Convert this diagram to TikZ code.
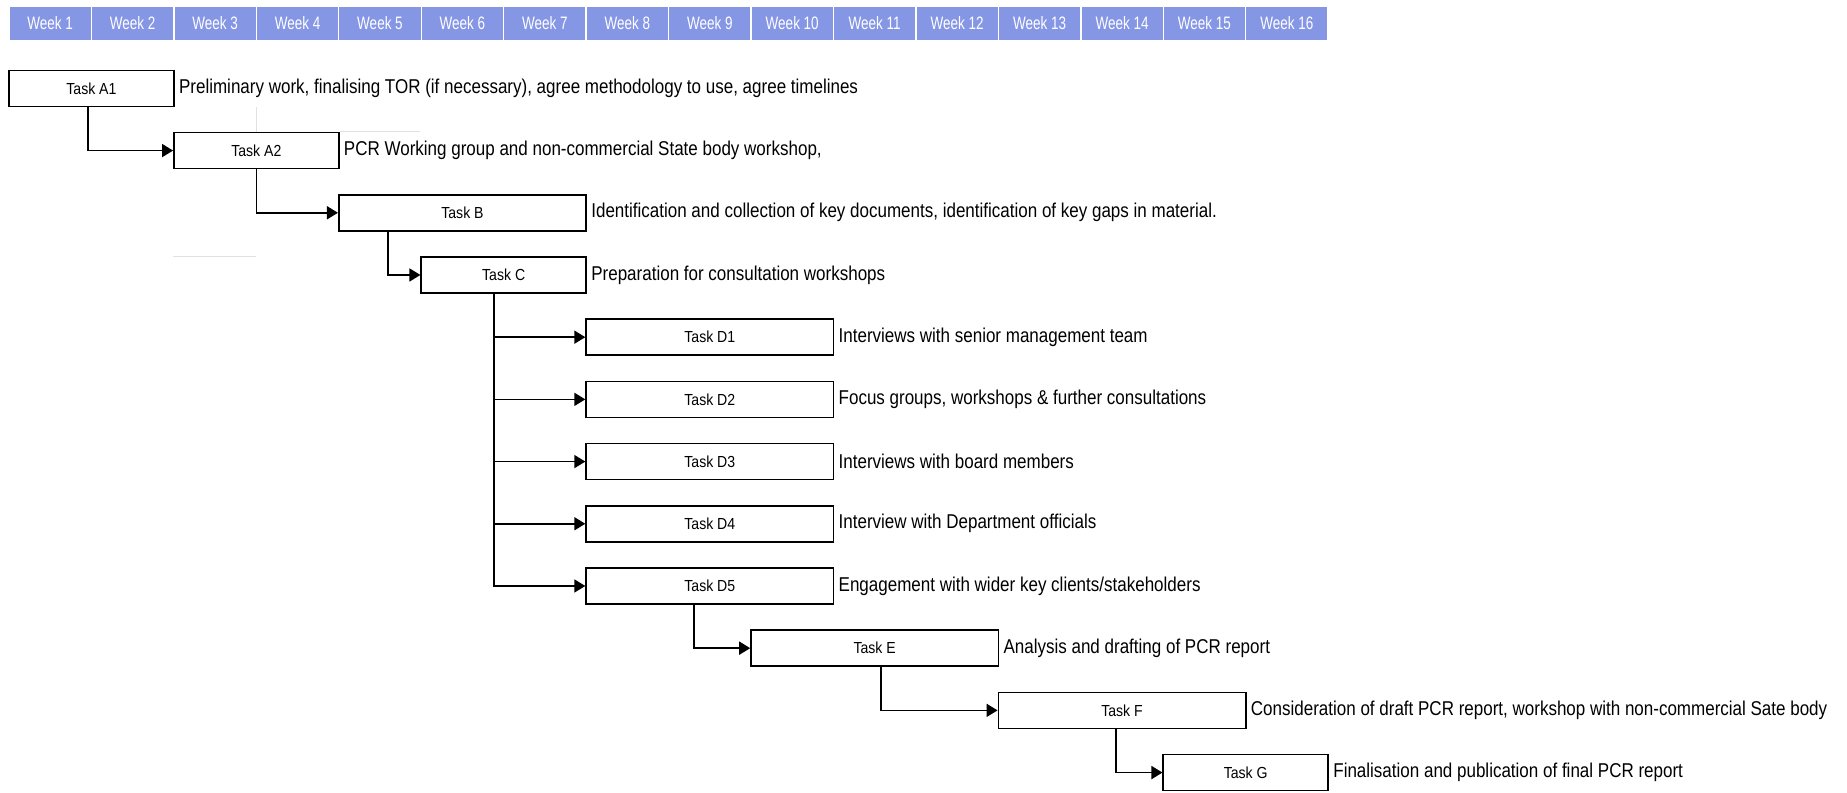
\documentclass[tikz,border=0pt]{standalone}
\usepackage{fontspec}
\setmainfont{Liberation Sans}
\newfontfamily\narrowfont[FakeStretch=0.85]{Liberation Sans}
\newfontfamily\labelfont[FakeStretch=0.88]{Liberation Sans}
\newfontfamily\weekfont[FakeStretch=0.75]{Liberation Sans}
\usetikzlibrary{arrows.meta,positioning}
\definecolor{weekblue}{RGB}{133,150,229}
\definecolor{faintgrey}{RGB}{225,225,225}
\tikzset{
  task/.style={draw=black,line width=0.8pt,minimum height=18pt,inner sep=0pt,
    font=\labelfont\fontsize{8pt}{9pt}\selectfont},
  twowk/.style={minimum width=82.45pt},
  threewk/.style={minimum width=123.675pt},
  desc/.style={anchor=west,inner sep=2pt,font=\narrowfont\fontsize{10pt}{12pt}\selectfont},
  week/.style={fill=weekblue,draw=white,line width=0.7pt,minimum width=41.225pt,
    minimum height=17.5pt,inner sep=0pt,text=white,font=\weekfont\fontsize{9pt}{10pt}\selectfont},
  link/.style={-{Triangle[length=5.5pt,width=6.5pt]},line width=0.8pt},
  faint/.style={draw=faintgrey,line width=0.5pt}
}
\begin{document}
\begin{tikzpicture}[x={(41.225pt,0)},y={(0,-31.1pt)}]
  \useasboundingbox (-0.109,-1.421) rectangle (22.293,11.328);

  % week header
  \foreach \w in {1,...,16}
    \node[week] (w\w) at (\w-0.5,-1.043) {Week \w};

  % tasks
  \node[task,twowk] (a1) at (1,0) {Task A1};
  \node[task,twowk] (a2) at (3,1) {Task A2};
  \node[task,threewk] (b) at (5.5,2) {Task B};
  \node[task,twowk] (c) at (6,3) {Task C};
  \foreach \i in {1,...,5}
    \node[task,threewk] (d\i) at (8.5,\i+3) {Task D\i};
  \node[task,threewk] (e) at (10.5,9) {Task E};
  \node[task,threewk] (f) at (13.5,10) {Task F};
  \node[task,twowk] (g) at (15,11) {Task G};

  % descriptions
  \node[desc] (a1t) at (a1.east) {Preliminary work, finalising TOR (if necessary), agree methodology to use, agree timelines};
  \node[desc] (a2t) at (a2.east) {PCR Working group and non-commercial State body workshop,};
  \node[desc] (bt) at (b.east) {Identification and collection of key documents, identification of key gaps in material.};
  \node[desc] (ct) at (c.east) {Preparation for consultation workshops};
  \foreach \i/\txt in {1/{Interviews with senior management team},
                       2/{Focus groups, workshops \& further consultations},
                       3/{Interviews with board members},
                       4/{Interview with Department officials},
                       5/{Engagement with wider key clients/stakeholders}}
    \node[desc] (d\i t) at (d\i.east) {\txt};
  \node[desc] (et) at (e.east) {Analysis and drafting of PCR report};
  \node[desc] (ft) at (f.east) {Consideration of draft PCR report, workshop with non-commercial Sate body};
  \node[desc] (gt) at (g.east) {Finalisation and publication of final PCR report};

  % faint guide lines
  \draw[faint] (a1.south -| a2.north) -- (a2.north);
  \draw[faint] (a2.north east) -- (a2.north east -| c.west);
  \draw[faint] (a2.west |- c.north) -- (a2.north |- c.north);

  % links
  \draw[link] (a1.south -| 0.96,0) |- (a2.west);
  \draw[link] (a2.south) |- (b.west);
  \draw[link] (b.south -| 4.6,0) |- (c.west);
  \coordinate (ctrunk) at (c.south -| 5.88,0);
  \foreach \i in {1,...,5}
    \draw[link] (ctrunk) |- (d\i.west);
  \draw[link] (d5.south -| 8.31,0) |- (e.west);
  \draw[link] (e.south -| 10.58,0) |- (f.west);
  \draw[link] (f.south -| 13.43,0) |- (g.west);
\end{tikzpicture}
\end{document}
